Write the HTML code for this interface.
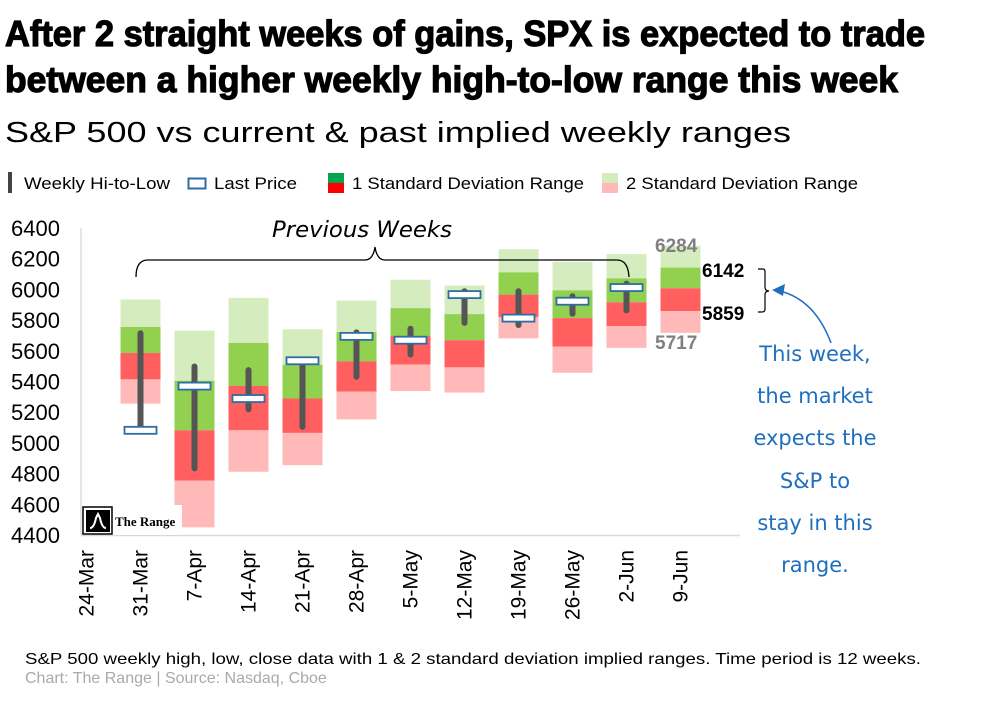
<!DOCTYPE html>
<html><head><meta charset="utf-8">
<style>
html,body{margin:0;padding:0;background:#fff;}
svg{display:block;font-family:"Liberation Sans",sans-serif;}
</style></head>
<body>
<svg id="chart" width="1008" height="701" viewBox="0 0 1008 701" xmlns="http://www.w3.org/2000/svg">
<rect width="1008" height="701" fill="#fff"/>
<text x="5" y="46" font-family="Liberation Sans Narrow, Liberation Sans, sans-serif" font-weight="bold" font-size="36" textLength="920" lengthAdjust="spacingAndGlyphs" stroke="#000" stroke-width="1.2">After 2 straight weeks of gains, SPX is expected to trade</text>
<text x="5" y="92" font-family="Liberation Sans Narrow, Liberation Sans, sans-serif" font-weight="bold" font-size="36" textLength="893" lengthAdjust="spacingAndGlyphs" stroke="#000" stroke-width="1.2">between a higher weekly high-to-low range this week</text>
<text x="5" y="142" font-size="29" textLength="786" lengthAdjust="spacingAndGlyphs">S&amp;P 500 vs current &amp; past implied weekly ranges</text>

<g font-size="17">
<rect x="8" y="172" width="4" height="21" fill="#444"/>
<text x="24" y="189" textLength="146" lengthAdjust="spacingAndGlyphs">Weekly Hi-to-Low</text>
<rect x="188.5" y="178.5" width="17" height="10" fill="#fff" stroke="#2e6da4" stroke-width="2"/>
<text x="214" y="189" textLength="83" lengthAdjust="spacingAndGlyphs">Last Price</text>
<rect x="328" y="173" width="16" height="10" fill="#00a650"/>
<rect x="328" y="183" width="16" height="10" fill="#ff0000"/>
<text x="352" y="189" textLength="232" lengthAdjust="spacingAndGlyphs">1 Standard Deviation Range</text>
<rect x="602" y="173" width="16" height="10" fill="#d5ecbf"/>
<rect x="602" y="183" width="16" height="10" fill="#ffb9b9"/>
<text x="626" y="189" textLength="232" lengthAdjust="spacingAndGlyphs">2 Standard Deviation Range</text>
</g>

<line x1="81" y1="228" x2="81" y2="535" stroke="#ddd" stroke-width="1.5"/>
<line x1="81" y1="535.5" x2="740" y2="535.5" stroke="#d9d9d9" stroke-width="1.5"/>
<g id="yticks"></g>
<g id="xticks"></g>
<g id="bars"></g>

<rect x="82" y="505" width="100" height="30" fill="#fff"/>
<g>
<rect x="83" y="507" width="29" height="27" fill="#fff" stroke="#000" stroke-width="1.5"/>
<rect x="86" y="510" width="24" height="22" fill="#000"/>
<path d="M90 528 Q94 528 96 518 L98 514 L100 518 Q102 528 106 528" stroke="#fff" stroke-width="2" fill="none"/>
<text x="115" y="526" font-family="Liberation Serif, serif" font-weight="bold" font-size="13">The Range</text>
</g>

<g>
<path d="M136 277 Q136 260 148 260 L365 260 Q373 260 375 247 Q377 260 385 260 L617 260 Q628 260 629 277" fill="none" stroke="#000" stroke-width="1.3"/>
<text x="362" y="237" text-anchor="middle" font-family="DejaVu Sans, sans-serif" font-style="italic" font-size="22" textLength="180" lengthAdjust="spacingAndGlyphs">Previous Weeks</text>
</g>

<g font-weight="bold" font-size="19">
<text x="655" y="252" fill="#808080">6284</text>
<text x="702" y="277" fill="#000">6142</text>
<text x="702" y="320" fill="#000">5859</text>
<text x="655" y="349" fill="#808080">5717</text>
</g>
<path d="M758 269 L763 269 Q765 269 765 272 L765 287 Q765 291 769 291 Q765 291 765 295 L765 309 Q765 312 762 312 L758 312" fill="none" stroke="#000" stroke-width="1.2"/>
<g>
<path d="M831 343 Q815 300 780 291" fill="none" stroke="#1f6fbf" stroke-width="1.5"/>
<path d="M772 290 L785 284 L783 296 Z" fill="#1f6fbf"/>
</g>
<g fill="#1f6fbf" font-family="DejaVu Sans, sans-serif" font-size="21" text-anchor="middle">
<text x="815" y="361">This week,</text>
<text x="815" y="403">the market</text>
<text x="815" y="445">expects the</text>
<text x="815" y="488">S&amp;P to</text>
<text x="815" y="530">stay in this</text>
<text x="815" y="572">range.</text>
</g>

<text x="25" y="664" font-size="16" textLength="896" lengthAdjust="spacingAndGlyphs">S&amp;P 500 weekly high, low, close data with 1 &amp; 2 standard deviation implied ranges. Time period is 12 weeks.</text>
<text x="25" y="683" font-size="16" fill="#aaaaaa">Chart: The Range | Source: Nasdaq, Cboe</text>

<script>
const categories = ["24-Mar","31-Mar","7-Apr","14-Apr","21-Apr","28-Apr","5-May","12-May","19-May","26-May","2-Jun","9-Jun"];
const yTicks = [4400,4600,4800,5000,5200,5400,5600,5800,6000,6200,6400];
const sd2Top = [5934,5731,5945,5740,5927,6063,6025,6262,6180,6230,6284];
const sd1Top = [5755,5405,5651,5509,5722,5878,5839,6111,5994,6072,6142];
const midPrice = [5586,5082,5371,5289,5531,5696,5669,5966,5813,5916,6007];
const sd1Bot = [5414,4754,5082,5065,5334,5511,5492,5819,5628,5761,5859];
const sd2Bot = [5256,4450,4812,4855,5153,5338,5328,5681,5457,5619,5717];
const weekHigh = [5714,5498,5474,5530,5720,5744,5988,5988,5955,6038,null];
const weekLow = [5093,4834,5218,5104,5431,5576,5782,5768,5841,5863,null];
const weekClose = [5082,5370,5289,5535,5694,5669,5966,5813,5923,6012,null];

const NS="http://www.w3.org/2000/svg";
const yMin=4400,yMax=6400,yBot=535,yTop=228;
function y(v){return yBot-(v-yMin)*(yBot-yTop)/(yMax-yMin);}
function barX(i){return 140.5+54*i;}
function labelX(i){return 86.5+54*i;}
function mk(tag,attrs,parent){const e=document.createElementNS(NS,tag);for(const k in attrs)e.setAttribute(k,attrs[k]);parent.appendChild(e);return e;}

const yt=document.getElementById('yticks');
yTicks.forEach(v=>{
  const t=mk('text',{x:60,y:y(v)+8,'text-anchor':'end','font-size':22},yt);
  
  
  t.textContent=v;
});
const xt=document.getElementById('xticks');
categories.forEach((c,i)=>{
  const x=labelX(i)+7, yy=550;
  const t=mk('text',{x:x,y:yy,'text-anchor':'end','font-size':21},xt);
  t.setAttribute('transform',`rotate(-90 ${x} ${yy})`);
  
  
  t.textContent=c;
});
const bg=document.getElementById('bars');
const segs=[[sd2Top,sd1Top,'#d5ecbf'],[sd1Top,midPrice,'#92d050'],[midPrice,sd1Bot,'#ff5f5f'],[sd1Bot,sd2Bot,'#ffb9b9']];
sd2Top.forEach((_,i)=>{
  const cx=barX(i);
  const g=mk('g',{},bg);
  
  
  segs.forEach(s=>{
    const r=mk('rect',{x:cx-20,y:y(s[0][i]),width:40,height:y(s[1][i])-y(s[0][i]),fill:s[2]},g);
    
    
  });
  if(weekHigh[i]!=null){
    const l=mk('line',{x1:cx,x2:cx,y1:y(weekHigh[i]),y2:y(weekLow[i]),stroke:'#555','stroke-width':6,'stroke-linecap':'round'},g);
    
    
    const b=mk('rect',{x:cx-16,y:y(weekClose[i])-3.5,width:32,height:7,fill:'#fff',stroke:'#2e6da4','stroke-width':1.8},g);
    
    
  }
});
</script>
</svg>
</body></html>
